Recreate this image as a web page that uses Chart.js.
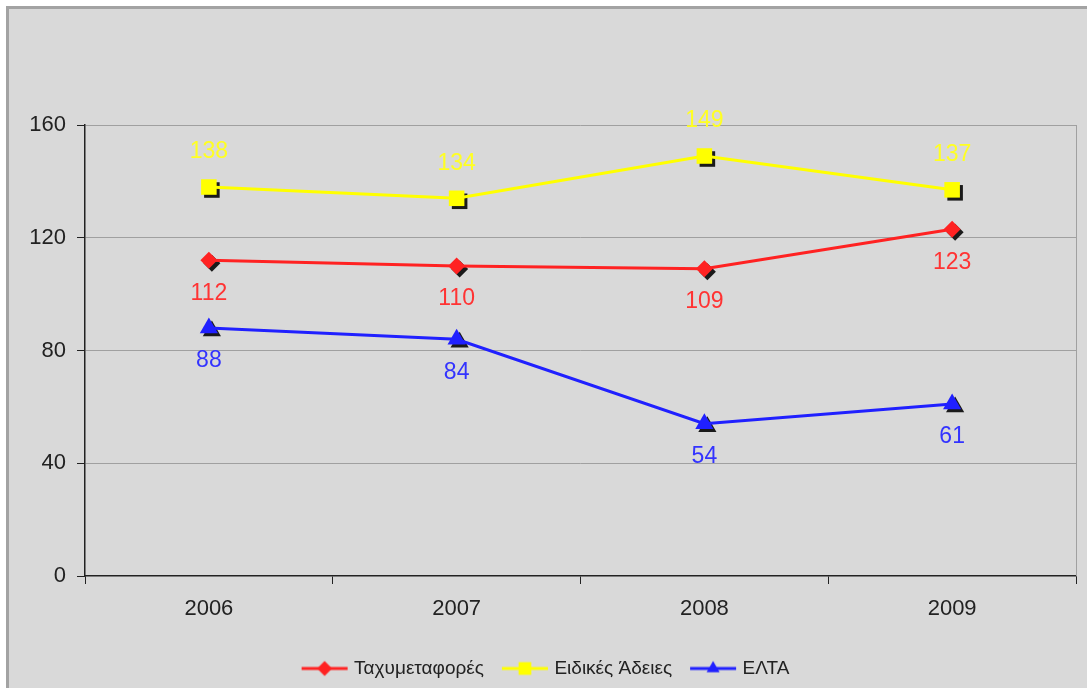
<!DOCTYPE html>
<html>
<head>
<meta charset="utf-8">
<script src="https://cdn.jsdelivr.net/npm/chart.js@4.4.1/dist/chart.umd.min.js"></script>
<style>
    html, body { margin: 0; padding: 0; background: #ffffff; }
    #frame {
        position: absolute; left: 6px; top: 6px; width: 1200px; height: 800px;
        background: #d9d9d9; border: 3px solid #a3a3a3; box-sizing: border-box;
    }
    #chart { position: absolute; left: 0; top: 0; }
</style>
</head>
<body>
<div id="frame"></div>
<canvas id="chart" width="1087" height="688"></canvas>
<script>
const years = ['2006', '2007', '2008', '2009'];
const courierValues = [112, 110, 109, 123];
const specialPermitValues = [138, 134, 149, 137];
const eltaValues = [88, 84, 54, 61];
const yTicks = [0, 40, 80, 120, 160];

const FONT = "'Liberation Sans', Arial, sans-serif";

// legend swatch: short line with the marker in the middle
function legendSwatch(color, style) {
    const c = document.createElement('canvas');
    c.width = 48;
    c.height = 18;
    const ctx = c.getContext('2d');
    ctx.strokeStyle = color;
    ctx.lineWidth = 3;
    ctx.beginPath();
    ctx.moveTo(1, 9);
    ctx.lineTo(47, 9);
    ctx.stroke();
    ctx.fillStyle = color;
    Chart.helpers.drawPoint(ctx, { pointStyle: style, radius: style === 'rect' ? 9 : 7.5, rotation: 0, borderWidth: 0 }, 24, 9);
    return c;
}

const markerShadow = {
    id: 'markerShadow',
    beforeDatasetDraw(chart, args) {
        const ds = chart.data.datasets[args.index];
        const meta = args.meta;
        const ctx = chart.ctx;
        ctx.save();
        ctx.fillStyle = '#1a1a1a';
        ctx.strokeStyle = '#1a1a1a';
        meta.data.forEach((pt) => {
            Chart.helpers.drawPoint(ctx, { pointStyle: ds.pointStyle, radius: ds.pointRadius, rotation: 0, borderWidth: 0 }, pt.x + 3, pt.y + 3);
        });
        ctx.restore();
    }
};

const valueLabels = {
    id: 'valueLabels',
    afterDatasetsDraw(chart) {
        const ctx = chart.ctx;
        ctx.save();
        ctx.font = `23px ${FONT}`;
        ctx.textAlign = 'center';
        ctx.textBaseline = 'middle';
        chart.data.datasets.forEach((ds, i) => {
            const meta = chart.getDatasetMeta(i);
            ctx.fillStyle = ds.labelColor;
            meta.data.forEach((pt, j) => {
                ctx.fillText(String(ds.data[j]), pt.x, pt.y + ds.labelOffset);
            });
        });
        ctx.restore();
    }
};

const plotRightEdge = {
    id: 'plotRightEdge',
    beforeDatasetsDraw(chart) {
        const { ctx, chartArea } = chart;
        ctx.save();
        ctx.strokeStyle = '#a0a0a0';
        ctx.lineWidth = 1;
        ctx.beginPath();
        ctx.moveTo(chartArea.right + 0.5, chartArea.top);
        ctx.lineTo(chartArea.right + 0.5, chartArea.bottom);
        ctx.stroke();
        ctx.restore();
    }
};

const datasets = [
    {
        label: 'Ταχυμεταφορές',
        data: courierValues,
        borderColor: '#ff2222',
        backgroundColor: '#ff2222',
        pointStyle: 'rectRot',
        pointRadius: 8.5,
        labelColor: '#ff3333',
        labelOffset: 33,
        swatch: legendSwatch('#ff2222', 'rectRot')
    },
    {
        label: 'Ειδικές Άδειες',
        data: specialPermitValues,
        borderColor: '#ffff00',
        backgroundColor: '#ffff00',
        pointStyle: 'rect',
        pointRadius: 11,
        labelColor: '#ffff22',
        labelOffset: -35,
        swatch: legendSwatch('#ffff00', 'rect')
    },
    {
        label: 'ΕΛΤΑ',
        data: eltaValues,
        borderColor: '#2020ff',
        backgroundColor: '#2020ff',
        pointStyle: 'triangle',
        pointRadius: 10.5,
        labelColor: '#3333ff',
        labelOffset: 33,
        swatch: legendSwatch('#2020ff', 'triangle')
    }
];

datasets.forEach((ds) => {
    ds.borderWidth = 3;
    ds.tension = 0;
    ds.fill = false;
    ds.pointBorderWidth = 0;
    ds.pointHoverRadius = ds.pointRadius;
});

new Chart(document.getElementById('chart'), {
    type: 'line',
    data: { labels: years, datasets },
    options: {
        responsive: false,
        animation: false,
        events: [],
        layout: { padding: { top: 125, right: 10, left: 17, bottom: 0 } },
        plugins: {
            legend: {
                position: 'bottom',
                labels: {
                    color: '#222222',
                    font: { family: FONT, size: 19 },
                    usePointStyle: true,
                    pointStyleWidth: 40,
                    padding: 21,
                    generateLabels: (chart) => chart.data.datasets.map((ds, i) => ({
                        text: ds.label,
                        pointStyle: ds.swatch,
                        fontColor: '#222222',
                        lineWidth: 0,
                        strokeStyle: 'transparent',
                        fillStyle: 'transparent',
                        datasetIndex: i
                    }))
                }
            },
            tooltip: { enabled: false }
        },
        scales: {
            x: {
                offset: true,
                afterFit: (scale) => { scale.height = 62; },
                grid: {
                    offset: true,
                    drawOnChartArea: false,
                    tickLength: 8,
                    tickColor: '#222222'
                },
                border: { color: '#222222', width: 1.5 },
                ticks: {
                    color: '#222222',
                    font: { family: FONT, size: 22 },
                    padding: 12,
                    maxRotation: 0
                }
            },
            y: {
                min: 0,
                max: 160,
                afterFit: (scale) => { scale.width = 68; },
                afterBuildTicks: (scale) => { scale.ticks = yTicks.map((v) => ({ value: v })); },
                grid: {
                    color: (ctx) => (ctx.tick && ctx.tick.value === 0 ? 'transparent' : '#a0a0a0'),
                    tickLength: 8,
                    tickColor: '#222222'
                },
                border: { color: '#222222', width: 1.5 },
                ticks: {
                    color: '#222222',
                    font: { family: FONT, size: 22 },
                    padding: 11
                }
            }
        }
    },
    plugins: [plotRightEdge, markerShadow, valueLabels]
});
</script>
</body>
</html>
